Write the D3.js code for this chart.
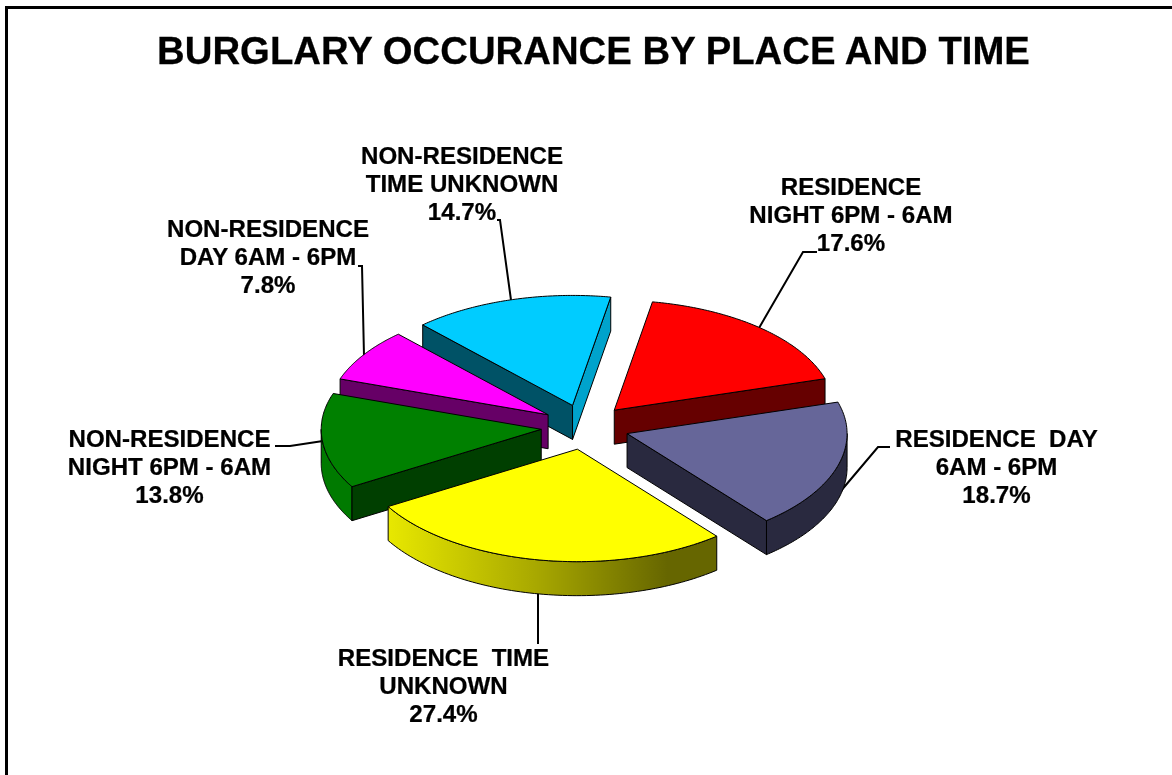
<!DOCTYPE html>
<html>
<head>
<meta charset="utf-8">
<script src="https://cdn.jsdelivr.net/npm/d3@7"></script>
<style>
html,body{margin:0;padding:0;background:#fff;overflow:hidden}
svg{display:block;filter:blur(0.4px)}
text{font-family:"Liberation Sans",Arial,sans-serif;font-weight:bold;fill:#000;stroke:#000;stroke-width:0.25px}
</style>
</head>
<body>
<script>
const titleText = "BURGLARY OCCURANCE BY PLACE AND TIME";
const categories = ["RESIDENCE|NIGHT 6PM - 6AM","RESIDENCE  DAY|6AM - 6PM","RESIDENCE  TIME|UNKNOWN","NON-RESIDENCE|NIGHT 6PM - 6AM","NON-RESIDENCE|DAY 6AM - 6PM","NON-RESIDENCE|TIME UNKNOWN"];
const values = [17.6,18.7,27.4,13.8,7.8,14.7];
const topColors = ["#ff0000","#666699","#ffff00","#008000","#ff00ff","#00ccff"];
const faceColors = ["#660000","#29293f","#666600","#003f00","#660066","#005266"];
const endFaceColors = ["#660000","#29293f","#666600","#003f00","#660066","#00a3cc"];
const rimColors = ["#660000","#29293f","url(#yellowRim)","#007a00","#660066","#00a3cc"];
const labelCenters = [851,996.5,443.5,169.5,268,462];
const labelBaselines = [195,447,666,446.5,237,163.5];
const leaders = [
  [[817,252],[803,252],[759,328]],
  [[890,447],[878,447],[840,492]],
  [[538,593],[538,644]],
  [[275,446],[290,446],[323,441]],
  [[358,266],[362,266],[364,356]],
  [[497,220],[500,220],[511,300]]
];

const W=1172,H=775, cx=585, cy=427, rx=220, ryFront=112.5, ryBack=110, explode=0.2, depth=34;
const rad=Math.PI/180;
const svg=d3.select("body").append("svg").attr("width",W).attr("height",H);
svg.append("rect").attr("width",W).attr("height",H).attr("fill","#fff");
svg.append("rect").attr("x",6.5).attr("y",7.5).attr("width",W+20).attr("height",H+20)
   .attr("fill","none").attr("stroke","#000").attr("stroke-width",3);

const grad=svg.append("defs").append("linearGradient").attr("id","yellowRim")
  .attr("gradientUnits","userSpaceOnUse").attr("x1",388).attr("x2",717).attr("y1",0).attr("y2",0);
grad.append("stop").attr("offset",0).attr("stop-color","#e8e800");
grad.append("stop").attr("offset",0.45).attr("stop-color","#a8a800");
grad.append("stop").attr("offset",0.85).attr("stop-color","#666600");
grad.append("stop").attr("offset",1).attr("stop-color","#666600");

svg.append("text").attr("transform",`translate(593.5,63.5)`).attr("text-anchor","middle")
   .attr("font-size",38).attr("id","title").text(titleText);

const line=d3.line();
svg.append("g").selectAll("path").data(leaders).join("path")
   .attr("d",d=>line(d)).attr("fill","none").attr("stroke","#000").attr("stroke-width",2);

const pie=d3.pie().sort(null).startAngle(10*rad).endAngle(370*rad);
const arcs=pie(values);
const slices=arcs.map(a=>{
  const mid=(a.startAngle+a.endAngle)/2;
  return {a,i:a.index,ax:cx+explode*rx*Math.sin(mid),ay:cy-explode*ryFront*Math.cos(mid)};
}).sort((p,q)=>p.ay-q.ay);

function rim(s,t,dy){
  const c=Math.cos(t);
  return [s.ax+rx*Math.sin(t),s.ay-(c>0?ryBack:ryFront)*c+dy];
}
slices.forEach(s=>{
  const g=svg.append("g");
  const st=s.a.startAngle,en=s.a.endAngle;
  const addPath=(pts,fill)=>g.append("path").attr("d",line(pts)+"Z").attr("fill",fill)
      .attr("stroke","#000").attr("stroke-width",1).attr("stroke-linejoin","round");
  const sweep=(a,b)=>d3.range(0,81).map(k=>a+(b-a)*k/80);
  // outer wall on the front half of the ellipse
  const from=Math.max(st,90*rad),to=Math.min(en,270*rad);
  if(to>from){
    const ts=sweep(from,to);
    addPath(ts.map(t=>rim(s,t,0)).concat(ts.slice().reverse().map(t=>rim(s,t,depth))),rimColors[s.i]);
  }
  // radial cut faces
  if(Math.sin(st)<0) addPath([[s.ax,s.ay],rim(s,st,0),rim(s,st,depth),[s.ax,s.ay+depth]],faceColors[s.i]);
  if(Math.sin(en)>0) addPath([[s.ax,s.ay],rim(s,en,0),rim(s,en,depth),[s.ax,s.ay+depth]],endFaceColors[s.i]);
  // top
  addPath([[s.ax,s.ay]].concat(sweep(st,en).map(t=>rim(s,t,0))),topColors[s.i]);
});

const pct=d3.format(".1f");
const lh=28.1;
categories.forEach((c,i)=>{
  const lines=c.split("|").concat(pct(values[i])+"%");
  const g=svg.append("g");
  lines.forEach((t,k)=>{
    g.append("text").attr("transform",`translate(${labelCenters[i]},${labelBaselines[i]+k*lh}) scale(1.025,1)`)
     .attr("text-anchor","middle").attr("font-size",23.5)
     .style("white-space","pre").text(t);
  });
});
// title is horizontally fitted to the reference's title width
const tn=document.getElementById("title");
const sx=873/tn.getComputedTextLength();
d3.select(tn).attr("transform",`translate(593.5,63.5) scale(${sx},1)`);
</script>
</body>
</html>
